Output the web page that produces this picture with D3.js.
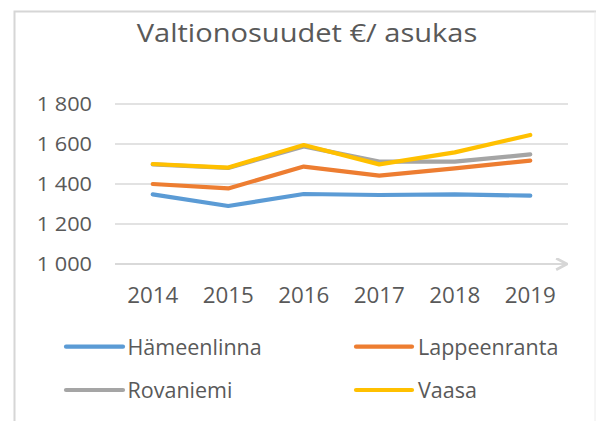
<!DOCTYPE html>
<html>
<head>
<meta charset="utf-8">
<script src="https://cdn.jsdelivr.net/npm/d3@7/dist/d3.min.js"></script>
<style>
  html, body { margin: 0; padding: 0; background: #ffffff; }
  svg { display: block; }
  text { font-family: "Open Sans", "DejaVu Sans", sans-serif; fill: #595959; }
</style>
</head>
<body>
<svg id="chart" width="597" height="421"></svg>
<script>
// ---- data ----
const title = "Valtionosuudet €/ asukas";
const years = ["2014", "2015", "2016", "2017", "2018", "2019"];
const seriesNames = ["Hämeenlinna", "Lappeenranta", "Rovaniemi", "Vaasa"];
const hameenlinna = [1348, 1290, 1350, 1345, 1348, 1342];
const lappeenranta = [1400, 1378, 1487, 1442, 1478, 1517];
const rovaniemi = [1498, 1480, 1588, 1512, 1512, 1548];
const vaasa = [1500, 1482, 1595, 1498, 1558, 1645];
const yTicks = [1000, 1200, 1400, 1600, 1800];
const colors = ["#5B9BD5", "#ED7D31", "#A5A5A5", "#FFC000"];

const seriesValues = [hameenlinna, lappeenranta, rovaniemi, vaasa];
const series = seriesNames.map((name, i) => ({ name, values: seriesValues[i], color: colors[i] }));

const svg = d3.select("#chart");

// frame (chart area border, cropped on the right/bottom)
svg.append("path")
  .attr("d", "M14.5,421 L14.5,11.5 L596,11.5")
  .attr("fill", "none").attr("stroke", "#d6d6d6").attr("stroke-width", 2);
svg.append("line")
  .attr("x1", 595).attr("x2", 595).attr("y1", 11.5).attr("y2", 421)
  .attr("stroke", "#ececec").attr("stroke-width", 1);

const x = d3.scaleBand().domain(years).range([115, 568]);
const y = d3.scaleLinear().domain([1000, 1800]).range([264, 104]);

function stretchedText(g, tx, ty, str, size, sx, anchor) {
  return g.append("text")
    .attr("transform", `translate(${tx},${ty}) scale(${sx},1)`)
    .attr("text-anchor", anchor)
    .style("font-size", size + "px")
    .text(str);
}

// title
stretchedText(svg, 307, 42, title, 25.5, 1.14, "middle");

// gridlines
const grid = svg.append("g");
grid.selectAll("line")
  .data(yTicks.filter(t => t !== 1000))
  .join("line")
  .attr("x1", 115).attr("x2", 568)
  .attr("y1", d => y(d)).attr("y2", d => y(d))
  .attr("stroke", "#d9d9d9").attr("stroke-width", 1.3);

// x axis line with arrow
svg.append("defs").append("marker")
  .attr("id", "arrow")
  .attr("viewBox", "0 0 12 12")
  .attr("refX", 11).attr("refY", 6)
  .attr("markerWidth", 13).attr("markerHeight", 13)
  .attr("markerUnits", "userSpaceOnUse")
  .attr("orient", "auto")
  .append("path")
  .attr("d", "M1,0.8 L11,6 L1,11.2")
  .attr("fill", "none").attr("stroke", "#d6d6d6").attr("stroke-width", 2.6);

svg.append("line")
  .attr("x1", 115).attr("x2", 567)
  .attr("y1", y(1000)).attr("y2", y(1000))
  .attr("stroke", "#d9d9d9").attr("stroke-width", 1.8)
  .attr("marker-end", "url(#arrow)");

// y labels
const fmt = v => d3.format(",")(v).replace(",", " ");
const yl = svg.append("g");
yTicks.forEach(t => stretchedText(yl, 92, y(t) + 7.2, fmt(t), 20.5, 1.06, "end"));

// x labels
const xl = svg.append("g");
years.forEach(yr => stretchedText(xl, x(yr) + x.bandwidth() / 2, 302.7, yr, 21.5, 1.04, "middle"));

// lines
const line = d3.line()
  .x((d, i) => x(years[i]) + x.bandwidth() / 2)
  .y(d => y(d));

svg.append("g").selectAll("path")
  .data(series)
  .join("path")
  .attr("d", d => line(d.values))
  .attr("fill", "none")
  .attr("stroke", d => d.color)
  .attr("stroke-width", 4.2)
  .attr("stroke-linejoin", "round")
  .attr("stroke-linecap", "round");

// legend
const legendPos = [
  { lx1: 66, lx2: 123, ly: 346.7, tx: 127.5 },
  { lx1: 356, lx2: 412, ly: 346.7, tx: 418 },
  { lx1: 66, lx2: 123, ly: 390, tx: 127.5 },
  { lx1: 356, lx2: 412, ly: 390, tx: 418 }
];
const lg = svg.append("g");
series.forEach((s, i) => {
  const p = legendPos[i];
  lg.append("line")
    .attr("x1", p.lx1).attr("x2", p.lx2)
    .attr("y1", p.ly).attr("y2", p.ly)
    .attr("stroke", s.color).attr("stroke-width", 4.2)
    .attr("stroke-linecap", "round");
  stretchedText(lg, p.tx, p.ly + 7.8, s.name, 21.5, 1.0, "start");
});
</script>
</body>
</html>
